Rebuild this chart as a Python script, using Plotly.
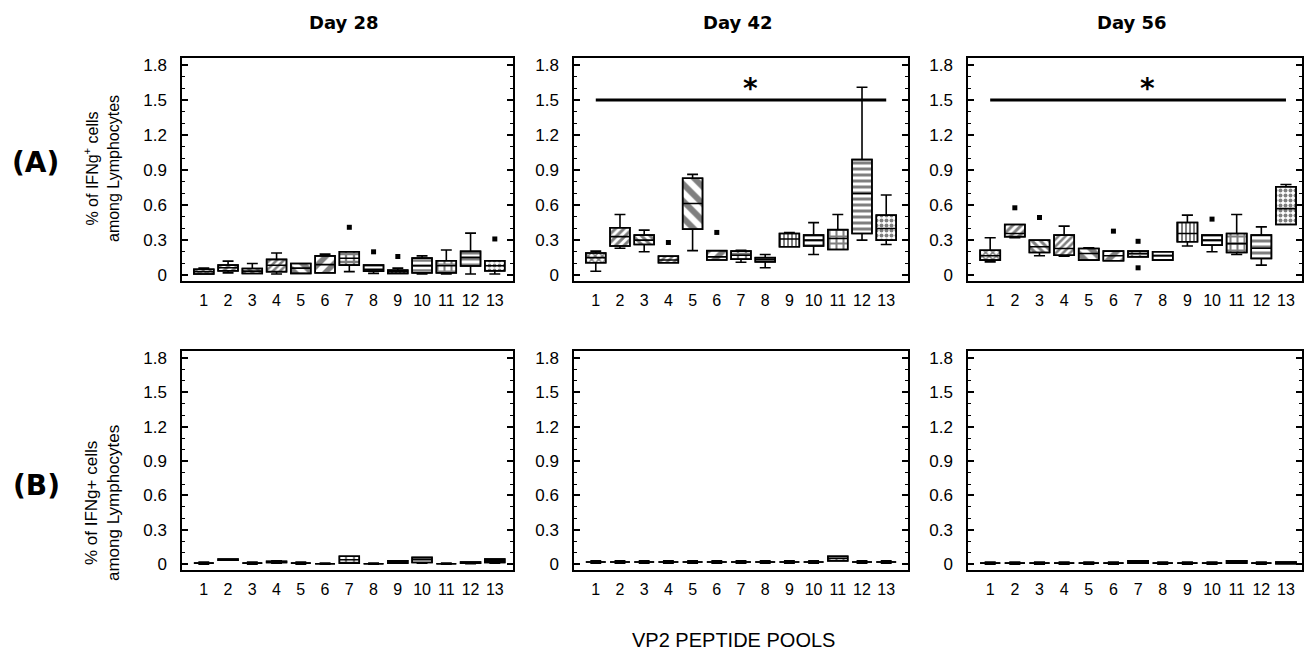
import plotly.graph_objects as go

W, H = 1310, 650

POOLS = list(range(1, 14))
TICK_X = [str(p) for p in POOLS]
TICK_Y_VALS = [0, 0.3, 0.6, 0.9, 1.2, 1.5, 1.8]
TICK_Y_TEXT = ["0", "0.3", "0.6", "0.9", "1.2", "1.5", "1.8"]
DAYS = ["Day 28", "Day 42", "Day 56"]

# ---- Row A, Day 28 ----
A28_LO = [0.01, 0.02, 0.014, 0.01, 0.015, 0.02, 0.03, 0.015, 0.014, 0.01, 0.01, 0.01, 0.01]
A28_Q1 = [0.01, 0.037, 0.014, 0.03, 0.015, 0.02, 0.086, 0.035, 0.014, 0.02, 0.02, 0.078, 0.037]
A28_MED = [0.03, 0.063, 0.035, 0.085, 0.06, 0.09, 0.145, 0.05, 0.03, 0.08, 0.08, 0.152, 0.08]
A28_Q3 = [0.05, 0.086, 0.057, 0.135, 0.10, 0.165, 0.2, 0.086, 0.043, 0.146, 0.124, 0.204, 0.124]
A28_HI = [0.06, 0.12, 0.10, 0.19, 0.10, 0.18, 0.2, 0.086, 0.06, 0.165, 0.215, 0.36, 0.124]
A28_OUT_X = [7, 8, 9, 13]
A28_OUT_Y = [0.41, 0.2, 0.16, 0.31]

# ---- Row A, Day 42 ----
A42_LO = [0.034, 0.23, 0.2, 0.106, 0.21, 0.13, 0.11, 0.063, 0.243, 0.177, 0.22, 0.3, 0.263]
A42_Q1 = [0.106, 0.25, 0.263, 0.106, 0.394, 0.13, 0.137, 0.114, 0.243, 0.25, 0.22, 0.357, 0.3]
A42_MED = [0.15, 0.33, 0.3, 0.13, 0.614, 0.157, 0.17, 0.134, 0.31, 0.3, 0.314, 0.7, 0.4]
A42_Q3 = [0.19, 0.406, 0.343, 0.163, 0.83, 0.21, 0.206, 0.15, 0.357, 0.343, 0.39, 0.99, 0.514]
A42_HI = [0.206, 0.52, 0.386, 0.163, 0.863, 0.21, 0.214, 0.177, 0.366, 0.45, 0.52, 1.61, 0.686]
A42_OUT_X = [4, 6]
A42_OUT_Y = [0.28, 0.366]

# ---- Row A, Day 56 ----
A56_LO = [0.114, 0.32, 0.166, 0.163, 0.129, 0.123, 0.157, 0.129, 0.25, 0.2, 0.177, 0.086, 0.434]
A56_Q1 = [0.129, 0.33, 0.194, 0.171, 0.129, 0.123, 0.157, 0.129, 0.286, 0.257, 0.194, 0.143, 0.434]
A56_MED = [0.166, 0.357, 0.243, 0.229, 0.186, 0.166, 0.186, 0.166, 0.357, 0.3, 0.27, 0.23, 0.57]
A56_Q3 = [0.214, 0.434, 0.3, 0.343, 0.229, 0.206, 0.206, 0.2, 0.451, 0.343, 0.357, 0.343, 0.757]
A56_HI = [0.32, 0.434, 0.3, 0.42, 0.234, 0.206, 0.206, 0.2, 0.514, 0.343, 0.52, 0.414, 0.777]
A56_OUT_X = [2, 3, 6, 7, 7, 10]
A56_OUT_Y = [0.577, 0.494, 0.377, 0.29, 0.063, 0.48]

# ---- Row B, Day 28 ----
B28_LO = [0.0, 0.035, 0.0, 0.01, 0.0, 0.0, 0.01, 0.0, 0.01, 0.01, 0.0, 0.005, 0.01]
B28_Q1 = [0.01, 0.035, 0.01, 0.015, 0.01, 0.005, 0.01, 0.005, 0.01, 0.015, 0.005, 0.01, 0.015]
B28_MED = [0.01, 0.04, 0.01, 0.02, 0.01, 0.005, 0.04, 0.005, 0.02, 0.04, 0.005, 0.015, 0.03]
B28_Q3 = [0.01, 0.045, 0.01, 0.025, 0.01, 0.005, 0.07, 0.005, 0.03, 0.06, 0.005, 0.02, 0.045]
B28_HI = [0.02, 0.045, 0.02, 0.03, 0.02, 0.01, 0.07, 0.01, 0.03, 0.06, 0.01, 0.02, 0.045]

# ---- Row B, Day 42 ----
B42_LO = [0.01, 0.01, 0.01, 0.01, 0.01, 0.01, 0.01, 0.01, 0.01, 0.01, 0.03, 0.01, 0.01]
B42_Q1 = [0.02, 0.02, 0.02, 0.02, 0.02, 0.02, 0.02, 0.02, 0.02, 0.02, 0.03, 0.02, 0.02]
B42_MED = [0.02, 0.02, 0.02, 0.02, 0.02, 0.02, 0.02, 0.02, 0.02, 0.02, 0.05, 0.02, 0.02]
B42_Q3 = [0.02, 0.02, 0.02, 0.02, 0.02, 0.02, 0.02, 0.02, 0.02, 0.02, 0.07, 0.02, 0.02]
B42_HI = [0.03, 0.03, 0.03, 0.03, 0.03, 0.03, 0.03, 0.03, 0.03, 0.03, 0.07, 0.03, 0.03]

# ---- Row B, Day 56 ----
B56_LO = [0.0, 0.0, 0.0, 0.0, 0.0, 0.0, 0.01, 0.0, 0.0, 0.0, 0.01, 0.0, 0.005]
B56_Q1 = [0.01, 0.01, 0.01, 0.01, 0.01, 0.01, 0.01, 0.01, 0.01, 0.01, 0.01, 0.01, 0.005]
B56_MED = [0.01, 0.01, 0.01, 0.01, 0.01, 0.01, 0.02, 0.01, 0.01, 0.01, 0.02, 0.01, 0.012]
B56_Q3 = [0.01, 0.01, 0.01, 0.01, 0.01, 0.01, 0.03, 0.01, 0.01, 0.01, 0.03, 0.01, 0.02]
B56_HI = [0.02, 0.02, 0.02, 0.02, 0.02, 0.02, 0.03, 0.02, 0.02, 0.02, 0.03, 0.02, 0.02]

# significance bars (rows A, Day 42 and Day 56)
SIG_X = [1, 13]
SIG_Y = [1.5, 1.5]
STAR_X = 7.4
STAR_Y = 1.6

# ---- style (not data) ----
PATTERN_SHAPE = ["x", "/", "\\", "/", "\\", "/", "+", "-", "|", "-", "+", "-", "."]
PATTERN_SIZE = [5, 6, 6, 5, 12, 11, 8, 5, 4, 5, 7, 6, 5]
SANS = "Liberation Sans, Arial, sans-serif"
BOLD = "DejaVu Sans, Verdana, sans-serif"
BOX_W = 0.82

X_DOMAINS = [(182, 513), (574, 908), (968, 1302)]
Y_DOMAINS = [(58, 281), (351, 570)]
X_RANGES = [[0.1, 13.75], [0.1, 13.9], [0.1, 13.65]]
Y_RANGE = [-0.05, 1.86]

panels = [
    # row, col, lo, q1, med, q3, hi, out_x, out_y, sig
    (0, 0, A28_LO, A28_Q1, A28_MED, A28_Q3, A28_HI, A28_OUT_X, A28_OUT_Y, False),
    (0, 1, A42_LO, A42_Q1, A42_MED, A42_Q3, A42_HI, A42_OUT_X, A42_OUT_Y, True),
    (0, 2, A56_LO, A56_Q1, A56_MED, A56_Q3, A56_HI, A56_OUT_X, A56_OUT_Y, True),
    (1, 0, B28_LO, B28_Q1, B28_MED, B28_Q3, B28_HI, [], [], False),
    (1, 1, B42_LO, B42_Q1, B42_MED, B42_Q3, B42_HI, [], [], False),
    (1, 2, B56_LO, B56_Q1, B56_MED, B56_Q3, B56_HI, [], [], False),
]

fig = go.Figure()
layout = dict(
    width=W, height=H,
    margin=dict(l=0, r=0, t=0, b=0, autoexpand=False),
    paper_bgcolor="white", plot_bgcolor="white",
    showlegend=False,
    barmode="overlay",
)
annotations = []


def paper_text(px, py, text, font, angle=0):
    annotations.append(dict(
        x=px / W, y=1 - py / H, xref="paper", yref="paper",
        xanchor="center", yanchor="middle", text=text, textangle=angle,
        showarrow=False, font=font,
    ))


for i, (row, col, lo, q1, med, q3, hi, ox, oy, sig) in enumerate(panels):
    n = i + 1
    xa = "x" if n == 1 else f"x{n}"
    ya = "y" if n == 1 else f"y{n}"
    xkey = "xaxis" if n == 1 else f"xaxis{n}"
    ykey = "yaxis" if n == 1 else f"yaxis{n}"
    x0, x1 = X_DOMAINS[col]
    y0, y1 = Y_DOMAINS[row]

    heights = [b - a for a, b in zip(q1, q3)]
    fig.add_trace(go.Bar(
        x=POOLS, y=heights, base=q1, width=BOX_W,
        marker=dict(color="white",
                    line=dict(color="black", width=1.5),
                    pattern=dict(shape=PATTERN_SHAPE, size=PATTERN_SIZE,
                                 fgcolor="black", bgcolor="white", solidity=0.5)),
        xaxis=xa, yaxis=ya, hoverinfo="skip",
    ))
    fig.add_trace(go.Box(
        x=POOLS, q1=q1, median=med, q3=q3, lowerfence=lo, upperfence=hi,
        width=BOX_W, whiskerwidth=0.55, boxpoints=False,
        fillcolor="rgba(0,0,0,0)", line=dict(color="black", width=1.6),
        xaxis=xa, yaxis=ya,
    ))
    if ox:
        fig.add_trace(go.Scatter(
            x=ox, y=oy, mode="markers",
            marker=dict(symbol="square", size=5, color="black"),
            xaxis=xa, yaxis=ya,
        ))
    if sig:
        fig.add_trace(go.Scatter(
            x=SIG_X, y=SIG_Y, mode="lines",
            line=dict(color="black", width=3),
            xaxis=xa, yaxis=ya,
        ))
        annotations.append(dict(
            x=STAR_X, y=STAR_Y, xref=xa, yref=ya, text="<b>*</b>",
            showarrow=False, font=dict(family=BOLD, size=28, color="black"),
            xanchor="center", yanchor="middle",
        ))

    layout[xkey] = dict(
        domain=[x0 / W, x1 / W], anchor=ya, range=X_RANGES[col],
        tickmode="array", tickvals=POOLS, ticktext=TICK_X,
        showline=True, linecolor="black", linewidth=1.5, mirror=True,
        ticks="", showgrid=False, zeroline=False,
        tickfont=dict(family=SANS, size=16, color="black"),
        ticklabelstandoff=4,
    )
    layout[ykey] = dict(
        domain=[1 - y1 / H, 1 - y0 / H], anchor=xa, range=Y_RANGE,
        tickmode="array", tickvals=TICK_Y_VALS, ticktext=TICK_Y_TEXT,
        showline=True, linecolor="black", linewidth=1.5, mirror="allticks",
        ticks="inside", ticklen=6, tickwidth=1.5, tickcolor="black",
        minor=dict(tickmode="linear", tick0=0, dtick=0.1, ticks="inside",
                   ticklen=3, tickwidth=1, tickcolor="black"),
        showgrid=False, zeroline=False,
        tickfont=dict(family=SANS, size=17, color="black"),
        ticklabelstandoff=10,
    )

# Column titles
for col, day in enumerate(DAYS):
    x0, x1 = X_DOMAINS[col]
    paper_text((x0 + x1) / 2 - 3, 23, f"<b>{day}</b>",
               dict(family=BOLD, size=18, color="black"))

# Row labels
paper_text(35, 163, "<b>(A)</b>", dict(family=BOLD, size=28, color="black"))
paper_text(36, 485, "<b>(B)</b>", dict(family=BOLD, size=28, color="black"))

# Y-axis titles
paper_text(101, 169, "% of IFNg<sup>+</sup> cells<br>among Lymphocytes",
           dict(family=SANS, size=16, color="black"), angle=-90)
paper_text(102, 503, "% of IFNg+ cells<br>among Lymphocytes",
           dict(family=SANS, size=17, color="black"), angle=-90)

# X-axis common title
paper_text(733, 640, "VP2 PEPTIDE POOLS", dict(family=SANS, size=20, color="black"))

layout["annotations"] = annotations
fig.update_layout(**layout)
fig.write_html("out.html", config={"displayModeBar": False},
               post_script="document.body.style.margin='0';")
